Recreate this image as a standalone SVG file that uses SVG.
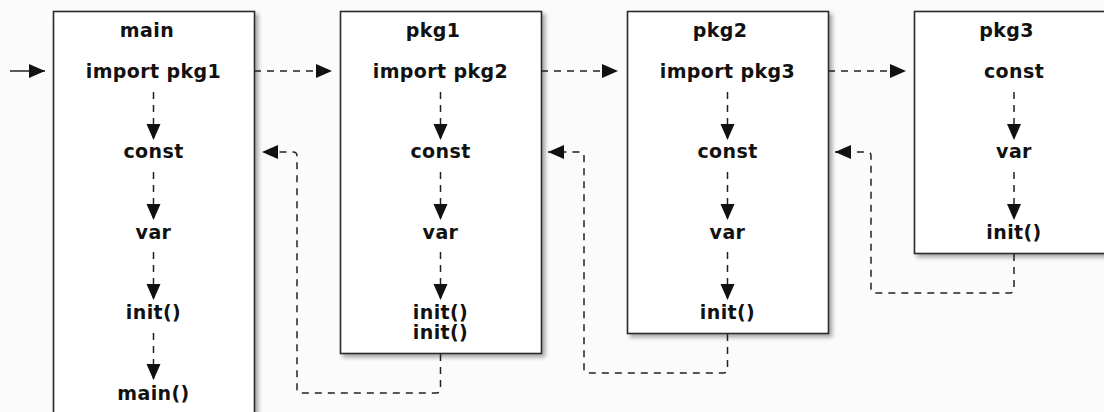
<svg xmlns="http://www.w3.org/2000/svg" width="1104" height="412" viewBox="0 0 1104 412">
<style>
.box{fill:#ffffff;stroke:#2b2b2b;stroke-width:1.6;filter:url(#sh)}
.t{font-family:"DejaVu Sans",sans-serif;font-weight:bold;font-size:19px;letter-spacing:0.4px;fill:#111;text-anchor:middle}
.d{fill:none;stroke:#222;stroke-width:1.5;stroke-dasharray:7,6;marker-end:url(#ah)}
.s{fill:none;stroke:#222;stroke-width:1.5;marker-end:url(#ah)}
</style>
<defs>
<filter id="sh" x="-10%" y="-10%" width="130%" height="130%">
<feDropShadow dx="3" dy="3" stdDeviation="2" flood-color="#000" flood-opacity="0.35"/>
</filter>
<marker id="ah" markerUnits="userSpaceOnUse" markerWidth="18" markerHeight="18" refX="16" refY="7" orient="auto">
<path d="M0,0 L16,7 L0,14 Z" fill="#111"/>
</marker>
</defs>
<rect x="0" y="0" width="1104" height="412" fill="#fbfbfb"/>
<g id="main">
<rect class="box" x="53.5" y="11.5" width="201" height="420"/>
<text class="t" x="147" y="37">main</text>
<text class="t" x="153.5" y="78">import pkg1</text>
<text class="t" x="153.5" y="158">const</text>
<text class="t" x="153.5" y="239">var</text>
<text class="t" x="153.5" y="319">init()</text>
<text class="t" x="153.5" y="400">main()</text>
</g>
<g id="pkg1">
<rect class="box" x="340.5" y="11.5" width="201" height="342"/>
<text class="t" x="433" y="37">pkg1</text>
<text class="t" x="440.5" y="78">import pkg2</text>
<text class="t" x="440.5" y="158">const</text>
<text class="t" x="440.5" y="239">var</text>
<text class="t" x="440.5" y="319">init()</text>
<text class="t" x="440.5" y="339">init()</text>
</g>
<g id="pkg2">
<rect class="box" x="627.5" y="11.5" width="201" height="322"/>
<text class="t" x="720" y="37">pkg2</text>
<text class="t" x="727.5" y="78">import pkg3</text>
<text class="t" x="727.5" y="158">const</text>
<text class="t" x="727.5" y="239">var</text>
<text class="t" x="727.5" y="319">init()</text>
</g>
<g id="pkg3">
<rect class="box" x="914.5" y="11.5" width="201" height="242"/>
<text class="t" x="1006.5" y="37">pkg3</text>
<text class="t" x="1014" y="78">const</text>
<text class="t" x="1014" y="158">var</text>
<text class="t" x="1014" y="239">init()</text>
</g>
<g id="connectors">
<path class="s" d="M10,71 H45"/>
<path class="d" d="M254,71 H332"/>
<path class="d" d="M541,71 H618"/>
<path class="d" d="M828,71 H906"/>
<path class="d" d="M153.5,92 V140"/>
<path class="d" d="M153.5,172 V220"/>
<path class="d" d="M153.5,252 V300"/>
<path class="d" d="M153.5,333 V380"/>
<path class="d" d="M440.5,92 V140"/>
<path class="d" d="M440.5,172 V220"/>
<path class="d" d="M440.5,252 V300"/>
<path class="d" d="M727.5,92 V140"/>
<path class="d" d="M727.5,172 V220"/>
<path class="d" d="M727.5,252 V300"/>
<path class="d" d="M1014,92 V140"/>
<path class="d" d="M1014,172 V220"/>
<path class="d" d="M440.5,354 V389 Q440.5,393 436.5,393 H301 Q297,393 297,389 V156 Q297,152 293,152 H262"/>
<path class="d" d="M727.5,334 V369 Q727.5,373 723.5,373 H588 Q584,373 584,369 V156 Q584,152 580,152 H548"/>
<path class="d" d="M1014,254 V289 Q1014,293 1010,293 H875 Q871,293 871,289 V156 Q871,152 867,152 H835"/>
</g>
</svg>
